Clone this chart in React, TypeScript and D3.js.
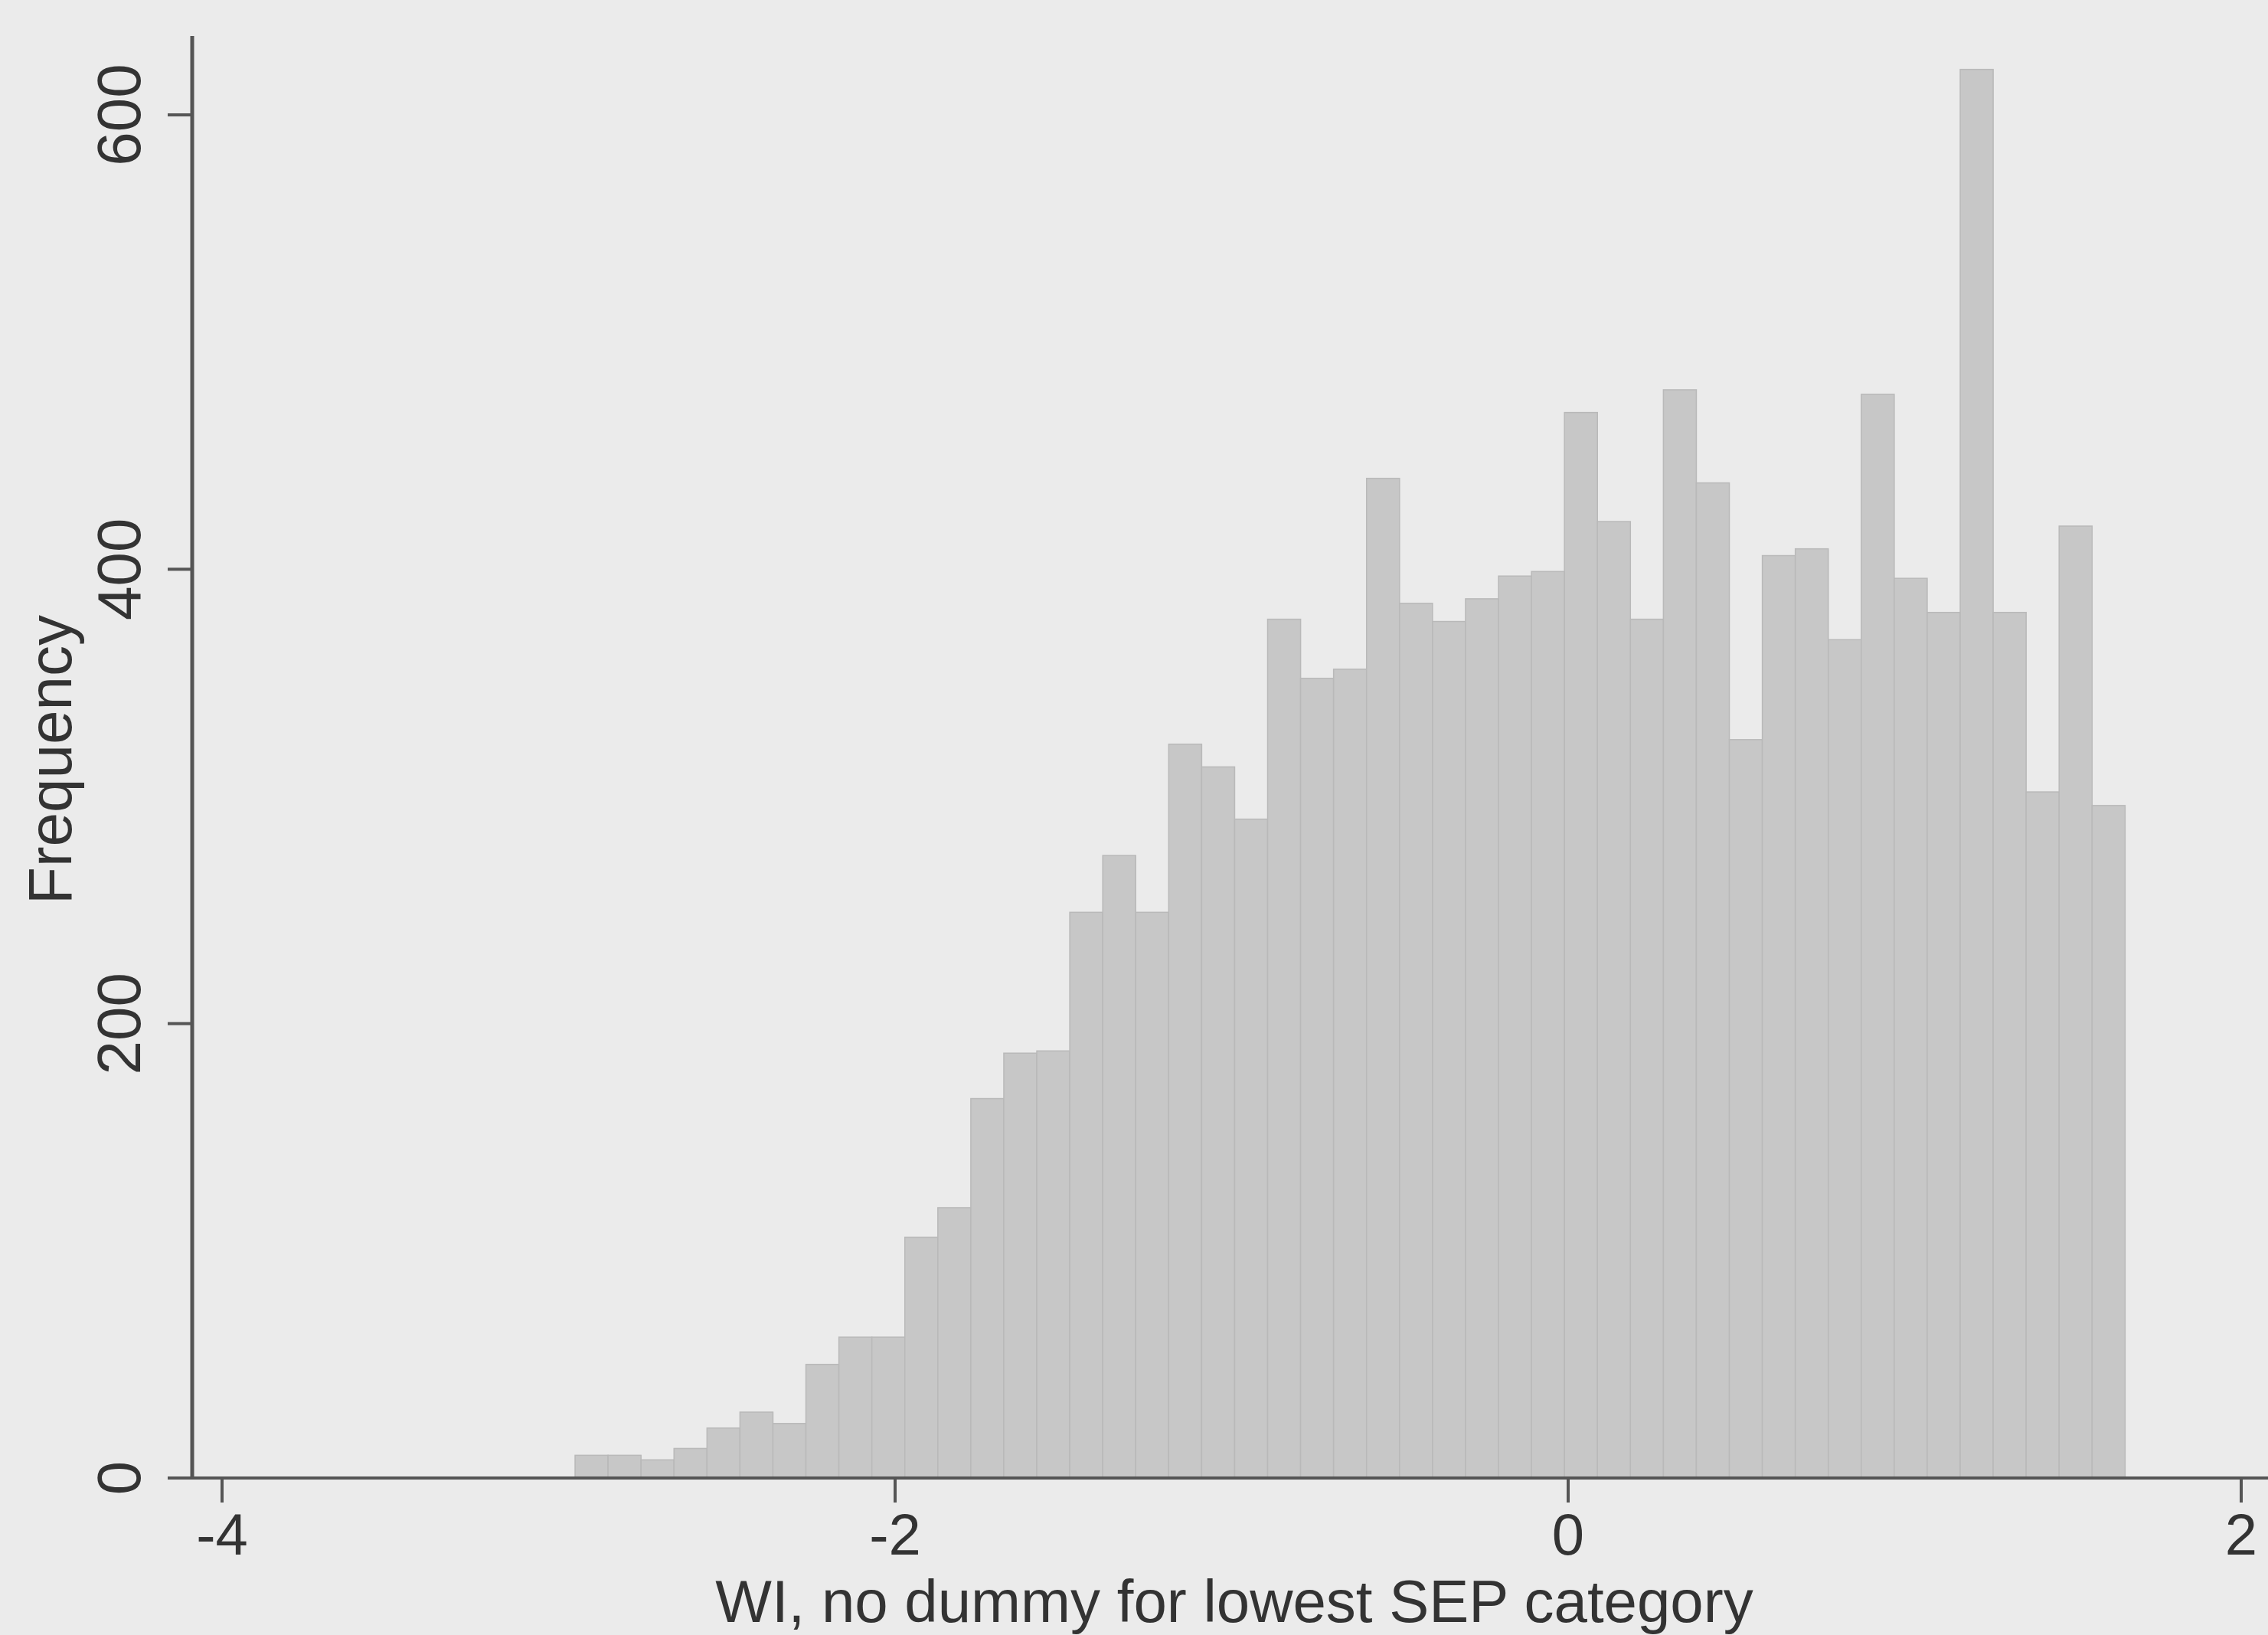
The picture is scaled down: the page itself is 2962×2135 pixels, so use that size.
import React from "react";
import * as d3 from "d3";

const W = 2962;
const H = 2135;

// Histogram data (frequency per bin)
const binStart = -2.951;
const binWidth = 0.098;
const counts = [
  10, 10, 8, 13, 22, 29, 24, 50, 62, 62, 106, 119, 167, 187, 188, 249, 274, 249,
  323, 313, 290, 378, 352, 356, 440, 385, 377, 387, 397, 399, 469, 421, 378, 479,
  438, 325, 406, 409, 369, 477, 396, 381, 620, 381, 302, 419, 296,
];
const xTicks = [-4, -2, 0, 2];
const yTicks = [0, 200, 400, 600];
const xTitle = "WI, no dummy for lowest SEP category";
const yTitle = "Frequency";

export default function App() {
  const x = d3.scaleLinear().domain([-4, 2]).range([290, 2927]);
  const y = d3.scaleLinear().domain([0, 600]).range([1930, 150]);
  const yTop = 47;
  const axisX = 251;
  const font = "'Liberation Sans', Arial, sans-serif";
  const bins = counts.map((c, i) => ({
    x0: binStart + i * binWidth,
    x1: binStart + (i + 1) * binWidth,
    c,
  }));
  return (
    <svg
      width={W}
      height={H}
      style={{ position: "absolute", left: 0, top: 0, display: "block" }}
    >
      <rect x={0} y={0} width={W} height={H} fill="#ebebeb" />
      <g>
        {bins.map((b, i) => (
          <rect
            key={i}
            x={x(b.x0)}
            y={y(b.c)}
            width={x(b.x1) - x(b.x0)}
            height={y(0) - y(b.c)}
            fill="#c7c7c7"
            stroke="#b9b9b9"
            strokeWidth={1.5}
          />
        ))}
      </g>
      {/* y axis */}
      <line x1={axisX} x2={axisX} y1={yTop} y2={y(0)} stroke="#555" strokeWidth={5} />
      {yTicks.map((t) => (
        <g key={t}>
          <line x1={axisX - 32} x2={axisX} y1={y(t)} y2={y(t)} stroke="#555" strokeWidth={4} />
          <text
            transform={`translate(183,${y(t)}) rotate(-90)`}
            textAnchor="middle"
            fontFamily={font}
            fontSize={80}
            fill="#333"
          >
            {t}
          </text>
        </g>
      ))}
      <text
        transform={`translate(93,992) rotate(-90)`}
        textAnchor="middle"
        fontFamily={font}
        fontSize={80}
        fill="#333"
      >
        {yTitle}
      </text>
      {/* x axis */}
      <line x1={axisX} x2={W} y1={y(0)} y2={y(0)} stroke="#555" strokeWidth={4} />
      {xTicks.map((t) => (
        <g key={t}>
          <line x1={x(t)} x2={x(t)} y1={y(0)} y2={y(0) + 32} stroke="#555" strokeWidth={4} />
          <text
            x={x(t)}
            y={2030}
            textAnchor="middle"
            fontFamily={font}
            fontSize={76}
            fill="#333"
          >
            {t}
          </text>
        </g>
      ))}
      <text
        x={1612}
        y={2118}
        textAnchor="middle"
        fontFamily={font}
        fontSize={78}
        fill="#333"
      >
        {xTitle}
      </text>
    </svg>
  );
}
